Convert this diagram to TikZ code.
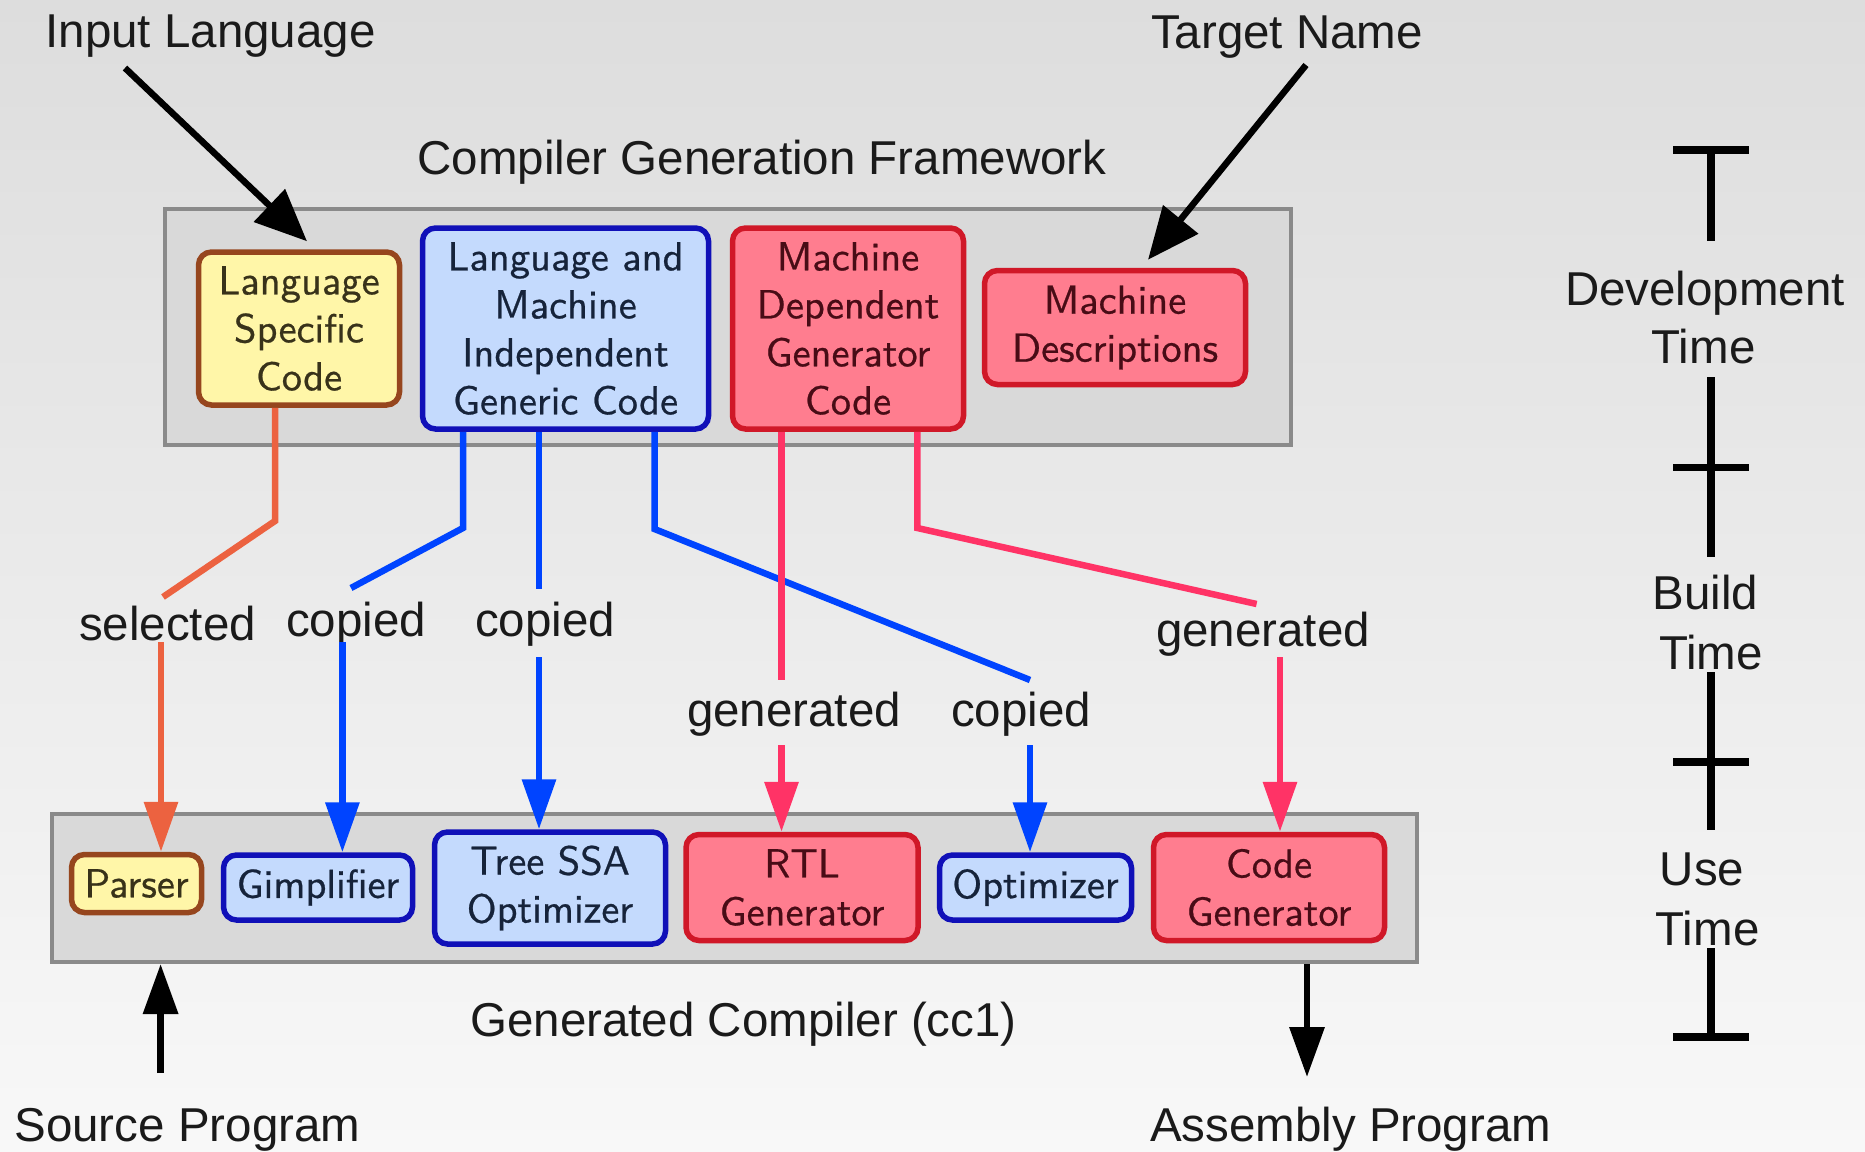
\documentclass[tikz,border=0pt]{standalone}
\usepackage{fontspec}
\setmainfont{Liberation Sans}
\newfontfamily\boxfont{lmsans10-regular.otf}[FakeBold=0.6]
\usetikzlibrary{arrows.meta,calc}

\definecolor{bgtop}{HTML}{DDDDDD}
\definecolor{bgbot}{HTML}{F8F8F8}
\definecolor{framefill}{HTML}{D9D9D9}
\definecolor{framedraw}{HTML}{8A8A8A}
\definecolor{labeltext}{HTML}{1A1A1A}
\definecolor{yfill}{HTML}{FFF6A8}
\definecolor{ydraw}{HTML}{96461E}
\definecolor{ytext}{HTML}{38321A}
\definecolor{bfill}{HTML}{C4DAFD}
\definecolor{bdraw}{HTML}{1010B8}
\definecolor{btext}{HTML}{16233A}
\definecolor{rfill}{HTML}{FF7D8F}
\definecolor{rdraw}{HTML}{D01828}
\definecolor{rtext}{HTML}{480C16}
\definecolor{ocol}{HTML}{EC6240}
\definecolor{bcol}{HTML}{0044FF}
\definecolor{pcol}{HTML}{FF3366}

\begin{document}
\begin{tikzpicture}[x=1pt,y=-1pt,
  lbl/.style={font=\fontsize{47.5}{57}\selectfont, text=labeltext, inner sep=0pt},
  frame/.style={draw=framedraw, fill=framefill, line width=4pt, inner sep=0pt},
  boxbase/.style={rounded corners=13pt, line width=5.5pt, inner sep=0pt, align=center,
    font=\boxfont\fontsize{40.5}{48}\selectfont},
  ybox/.style={boxbase, draw=ydraw, fill=yfill, text=ytext},
  bbox/.style={boxbase, draw=bdraw, fill=bfill, text=btext},
  rbox/.style={boxbase, draw=rdraw, fill=rfill, text=rtext},
  conn/.style={line width=6.5pt},
  tipc/.style={-{Triangle[length=50pt,width=33pt]}},
  barrow/.style={line width=6.5pt, draw=black, -{Triangle[length=50pt,width=34pt]}},
  bigarrow/.style={line width=6.5pt, draw=black, -{Triangle[length=52pt,width=44pt]}},
  tl/.style={line width=7.5pt, draw=black}
]
% canvas and background gradient
\useasboundingbox (0,0) rectangle (1865,1151);
\fill[top color=bgtop, bottom color=bgbot] (0,0) rectangle (1865,1151);

% the two framework panels
\node[frame, minimum width=1126pt, minimum height=236pt] (tframe) at (728,327) {};
\node[frame, minimum width=1365pt, minimum height=148pt] (bframe) at (734.5,888) {};

% source code components
\node[ybox, minimum width=201pt, minimum height=153pt] (lsc) at (299,328.5) {Language\\Specific\\Code};
\node[bbox, minimum width=286pt, minimum height=201pt] (lmi) at (565.5,328.5) {Language and\\Machine\\Independent\\Generic Code};
\node[rbox, minimum width=231pt, minimum height=201pt] (mdg) at (848,328.5) {Machine\\Dependent\\Generator\\Code};
\node[rbox, minimum width=261pt, minimum height=114pt] (md) at (1115,327.5) {Machine\\Descriptions};

% compiler passes
\node[ybox, minimum width=130pt, minimum height=58pt] (parser) at (136.5,883.5) {Parser};
\node[bbox, minimum width=189pt, minimum height=65pt] (gimp) at (318,887.5) {Gimplifier};
\node[bbox, minimum width=231pt, minimum height=112pt] (tssa) at (550,888) {Tree SSA\\Optimizer};
\node[rbox, minimum width=232pt, minimum height=106pt] (rtl) at (802,887.5) {RTL\\Generator};
\node[bbox, minimum width=192pt, minimum height=65pt] (opt) at (1035.5,887.5) {Optimizer};
\node[rbox, minimum width=231pt, minimum height=106pt] (cg) at (1269,887.5) {Code\\Generator};

% captions
\node[lbl, anchor=base] (inlang) at (210.5,47) {Input Language};
\node[lbl, anchor=base] (tgtname) at (1287,48) {Target Name};
\node[lbl, anchor=base] (cgf) at (762,174) {Compiler Generation Framework};
\node[lbl, anchor=base] (gencc) at (743.5,1036) {Generated Compiler (cc1)};
\node[lbl, anchor=base] (srcprog) at (187.4,1141.5) {Source Program};
\node[lbl, anchor=base] (asmprog) at (1350.6,1141.5) {Assembly Program};

% edge labels
\node[lbl, anchor=base] (sel) at (167.5,640) {selected};
\node[lbl, anchor=base] (cop1) at (356,636.7) {copied};
\node[lbl, anchor=base] (cop2) at (545,636.7) {copied};
\node[lbl, anchor=base] (gen1) at (794,726.7) {generated};
\node[lbl, anchor=base] (cop3) at (1021,726.7) {copied};
\node[lbl, anchor=base] (gen2) at (1263,646.7) {generated};

% phase labels of the time scale
\node[lbl, anchor=base] (devA) at (1705,305.7) {Development};
\node[lbl, anchor=base] (devB) at (1703.5,363) {Time};
\node[lbl, anchor=base] (bldA) at (1705.5,609) {Build};
\node[lbl, anchor=base] (bldB) at (1711,669) {Time};
\node[lbl, anchor=base] (useA) at (1702,885.7) {Use};
\node[lbl, anchor=base] (useB) at (1707.5,945) {Time};

% inputs into the framework
\coordinate (inTail) at (125,68);
\coordinate (tgTail) at (1306,65);
\draw[bigarrow] (inTail) -- ($(lsc.north)+(8,-8)$);
\draw[bigarrow] (tgTail) -- ($(md.north)+(33,-8)$);

% program in and out of the compiler
\coordinate (srcTail) at (160.6,1073);
\coordinate (asmHead) at (1307,1077);
\draw[barrow] (srcTail) -- (srcTail |- bframe.south);
\draw[barrow] (bframe.south -| asmHead) -- (asmHead);

% selected: language specific code -> parser
\coordinate (selTop) at (163,597);
\coordinate (selBot) at (161,642);
\draw[conn, draw=ocol] ([xshift=-24pt]lsc.south) -- (275,521) -- (selTop);
\draw[conn, draw=ocol, tipc] (selBot) -- (selBot |- parser.north);

% copied: generic code -> gimplifier
\coordinate (c1Top) at (351,588);
\coordinate (c1Bot) at (342.4,642);
\draw[conn, draw=bcol] ([xshift=-102.5pt]lmi.south) -- (463,528) -- (c1Top);
\draw[conn, draw=bcol, tipc] (c1Bot) -- (c1Bot |- gimp.north);

% copied: generic code -> tree ssa optimizer
\coordinate (c2Top) at (539,589);
\coordinate (c2Bot) at (539,657);
\draw[conn, draw=bcol] ([xshift=-26.5pt]lmi.south) -- (c2Top);
\draw[conn, draw=bcol, tipc] (c2Bot) -- (c2Bot |- tssa.north);

% copied: generic code -> optimizer
\coordinate (c3Top) at (1030,680);
\coordinate (c3Bot) at (1030,745);
\draw[conn, draw=bcol] ([xshift=89pt]lmi.south) -- (654.5,529) -- (c3Top);
\draw[conn, draw=bcol, tipc] (c3Bot) -- (c3Bot |- opt.north);

% generated: generator code -> rtl generator
\coordinate (g1Top) at (781.5,680);
\coordinate (g1Bot) at (781.5,745);
\draw[conn, draw=pcol] ([xshift=-66.5pt]mdg.south) -- (g1Top);
\draw[conn, draw=pcol, tipc] (g1Bot) -- (g1Bot |- rtl.north);

% generated: generator code -> code generator
\coordinate (g2Top) at (1256.6,604);
\coordinate (g2Bot) at (1280,657);
\draw[conn, draw=pcol] ([xshift=69.3pt]mdg.south) -- (917.3,528) -- (g2Top);
\draw[conn, draw=pcol, tipc] (g2Bot) -- (g2Bot |- cg.north);

% time scale
\draw[tl] (1673,150) -- (1749,150);
\draw[tl] (1711,150) -- (1711,241);
\draw[tl] (1711,377) -- (1711,557);
\draw[tl] (1673,467.5) -- (1749,467.5);
\draw[tl] (1711,672) -- (1711,830);
\draw[tl] (1673,762) -- (1749,762);
\draw[tl] (1711,948) -- (1711,1037);
\draw[tl] (1673,1037) -- (1749,1037);
\end{tikzpicture}
\end{document}
